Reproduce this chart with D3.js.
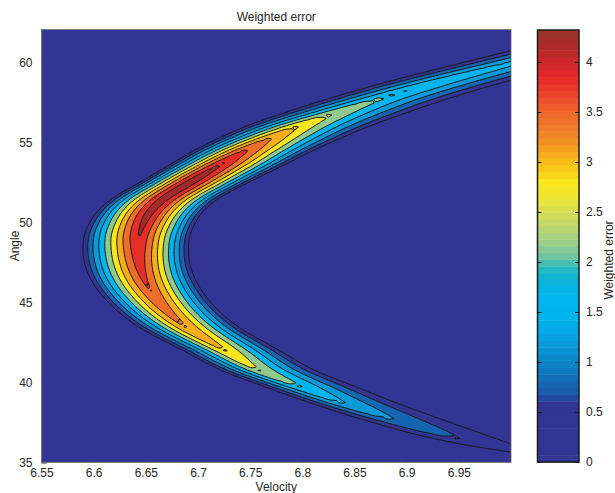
<!DOCTYPE html>
<html><head><meta charset="utf-8">
<script src="https://cdn.jsdelivr.net/npm/d3@7"></script>
<style>
body{margin:0;background:#fff}
svg{display:block}
text{font-family:"Liberation Sans",Arial,Helvetica,sans-serif;fill:#262626}
</style>
</head><body>
<svg id="chart" width="615" height="493"></svg>
<script>
// ---------- data ----------
// ridge of the error surface, listed by angle: ridge velocity, peak error, and half widths
// (in velocity) on the outer (convex) and inner (concave) side of the ridge
const ridgeAngle      = [34.0, 35.7, 36.53, 37.66, 38.66, 39.67, 40.8, 42.0, 43.5, 45.8, 48.3, 49.5, 51.4, 52.6, 53.6, 54.6, 55.4, 56.1, 56.9, 57.7, 58.5, 59.9, 61.4, 62.8];
const ridgeVelocity   = [7.11, 7.0, 6.946, 6.887, 6.841, 6.80, 6.757, 6.726, 6.688, 6.654, 6.643, 6.645, 6.665, 6.694, 6.72, 6.747, 6.772, 6.797, 6.832, 6.870, 6.912, 6.995, 7.09, 7.19];
const ridgePeak       = [0.2, 0.45, 0.84, 1.24, 1.64, 2.04, 2.47, 2.87, 3.27, 3.65, 3.95, 4.1, 4.28, 4.32, 4.12, 3.68, 3.22, 2.83, 2.4, 2.12, 2.0, 1.78, 1.58, 1.38];
const ridgeWidthOuter = [0.038, 0.038, 0.038, 0.038, 0.038, 0.039, 0.041, 0.045, 0.05, 0.055, 0.058, 0.057, 0.054, 0.052, 0.052, 0.053, 0.054, 0.055, 0.056, 0.057, 0.058, 0.06, 0.062, 0.064];
const ridgeWidthInner = [0.066, 0.066, 0.066, 0.066, 0.065, 0.064, 0.062, 0.059, 0.056, 0.054, 0.052, 0.053, 0.056, 0.061, 0.067, 0.072, 0.076, 0.078, 0.079, 0.078, 0.077, 0.076, 0.078, 0.08];
// shape of the error across the ridge (fraction of peak at 0, 0.1, ... 1 of the half width)
const crossProfile = [1, 0.93, 0.85, 0.76, 0.66, 0.56, 0.46, 0.36, 0.25, 0.125, 0];

const contourLevels = [0.4, 0.8, 1.2, 1.6, 2.0, 2.4, 2.8, 3.2, 3.6, 4.0];
const bandColors = ["#333594", "#333594", "#1565b1", "#0a9ad8", "#00b5ed", "#8fca8c", "#f6e51f", "#f6ad1c", "#ef6d2b", "#e52e28", "#a32a2a"];

const xTicks = [6.55, 6.6, 6.65, 6.7, 6.75, 6.8, 6.85, 6.9, 6.95];
const yTicks = [35, 40, 45, 50, 55, 60];
const cbTicks = [0, 0.5, 1, 1.5, 2, 2.5, 3, 3.5, 4];
const cmapStops  = [0, 0.58, 0.64, 0.72, 0.85, 1.0, 1.15, 1.3, 1.45, 1.7, 1.85, 1.95, 2.05, 2.2, 2.35, 2.5, 2.65, 2.8, 2.95, 3.1, 3.3, 3.5, 3.7, 3.85, 4.0, 4.15, 4.32];
const cmapColors = ["#333594", "#333594", "#24489f", "#1860ac", "#1070b8", "#0c85c6", "#0a98d8", "#04a8e4", "#00b3ec", "#00b4ec", "#10b5d2", "#2abbbb", "#6ec4a4", "#9ccf88", "#bcd670", "#d6de54", "#f0e534", "#fbe61e", "#f8c618", "#f5a71e", "#f1802a", "#ee672c", "#ea402b", "#e5272a", "#cd282a", "#b02a2a", "#98342a"];

const xDomain = [6.55, 7.0], yDomain = [35, 62.1], cbDomain = [0, 4.32];

// ---------- layout ----------
const svg = d3.select("#chart");
const plot = {left: 41.5, right: 511, top: 29.5, bottom: 462.5};
const cb = {left: 537.5, right: 579, top: 30, bottom: 462};

const x = d3.scaleLinear().domain(xDomain).range([plot.left, plot.right]);
const y = d3.scaleLinear().domain(yDomain).range([plot.bottom, plot.top]);

// ---------- smooth curves through the ridge description ----------
function smoothCurve(xs, ys) {
  const n = xs.length, m = new Array(n);
  for (let i = 0; i < n; i++) {
    if (i === 0) m[i] = (ys[1] - ys[0]) / (xs[1] - xs[0]);
    else if (i === n - 1) m[i] = (ys[n - 1] - ys[n - 2]) / (xs[n - 1] - xs[n - 2]);
    else {
      const h0 = xs[i] - xs[i - 1], h1 = xs[i + 1] - xs[i];
      const s0 = (ys[i] - ys[i - 1]) / h0, s1 = (ys[i + 1] - ys[i]) / h1;
      m[i] = (s0 * h1 + s1 * h0) / (h0 + h1);
    }
  }
  return function(v) {
    let i = d3.bisectRight(xs, v) - 1;
    i = Math.max(0, Math.min(n - 2, i));
    const h = xs[i + 1] - xs[i], t = (v - xs[i]) / h, t2 = t * t, t3 = t2 * t;
    return (2 * t3 - 3 * t2 + 1) * ys[i] + (t3 - 2 * t2 + t) * h * m[i] + (-2 * t3 + 3 * t2) * ys[i + 1] + (t3 - t2) * h * m[i + 1];
  };
}
const centerAt = smoothCurve(ridgeAngle, ridgeVelocity);
const peakAt = smoothCurve(ridgeAngle, ridgePeak);
const wOutAt = smoothCurve(ridgeAngle, ridgeWidthOuter);
const wInAt = smoothCurve(ridgeAngle, ridgeWidthInner);
const profile = d3.scaleLinear().domain(d3.range(crossProfile.length).map(i => i / (crossProfile.length - 1))).range(crossProfile).clamp(true);

function surface(v, a) {
  const c = centerAt(a);
  const w = v < c ? wOutAt(a) : wInAt(a);
  return Math.max(0, peakAt(a)) * profile(Math.abs(v - c) / w);
}

// sampling grid of the surface (fine in velocity, coarse in angle)
const v0 = 6.54, dv = 0.0025, nx = 189;
const a0 = 34.75, da = 0.25, ny = 112;
const values = new Array(nx * ny);
for (let j = 0; j < ny; j++) for (let i = 0; i < nx; i++) {
  values[j * nx + i] = surface(v0 + i * dv, a0 + j * da);
}

const gx = d3.scaleLinear().domain([0.5, nx - 0.5]).range([x(v0), x(v0 + (nx - 1) * dv)]);
const gy = d3.scaleLinear().domain([0.5, ny - 0.5]).range([y(a0), y(a0 + (ny - 1) * da)]);
const gridPath = d3.geoPath(d3.geoTransform({point(px, py) { this.stream.point(gx(px), gy(py)); }}));

// ---------- axes (under the filled contours, like MATLAB's bottom layer) ----------
const fmt = d3.format("~g");
const xAxis = svg.append("g").attr("transform", `translate(0,${plot.bottom})`)
  .call(d3.axisBottom(x).tickValues(xTicks).tickFormat(fmt).tickSizeInner(-5).tickSizeOuter(0).tickPadding(13));
const yAxis = svg.append("g").attr("transform", `translate(${plot.left},0)`)
  .call(d3.axisLeft(y).tickValues(yTicks).tickFormat(fmt).tickSizeInner(-5).tickSizeOuter(0).tickPadding(9));
[xAxis, yAxis].forEach(g => {
  g.select(".domain").remove();
  g.selectAll("line").attr("stroke", "#262626");
  g.selectAll("text").attr("font-size", 12).attr("fill", "#262626").style("font-family", '"Liberation Sans",Arial,sans-serif');
});
xAxis.selectAll("text").attr("dy", 0).attr("y", 14);

// ---------- filled contours ----------
svg.append("clipPath").attr("id", "plotclip").append("rect")
  .attr("x", plot.left).attr("y", plot.top).attr("width", plot.right - plot.left).attr("height", plot.bottom - plot.top);
const layer = svg.append("g").attr("clip-path", "url(#plotclip)");
layer.append("rect").attr("x", plot.left).attr("y", plot.top)
  .attr("width", plot.right - plot.left).attr("height", plot.bottom - plot.top).attr("fill", bandColors[0]);
const contours = d3.contours().size([nx, ny]).thresholds(contourLevels)(values);
layer.selectAll("path.band").data(contours).join("path")
  .attr("class", "band")
  .attr("d", gridPath)
  .attr("fill", (d, i) => bandColors[i + 1])
  .attr("fill-rule", "evenodd")
  .attr("stroke", "#1a1a1a")
  .attr("stroke-width", 1)
  .attr("stroke-linejoin", "round");

// box
svg.append("rect").attr("x", plot.left).attr("y", plot.top)
  .attr("width", plot.right - plot.left).attr("height", plot.bottom - plot.top)
  .attr("fill", "none").attr("stroke", "#6a6a6a").attr("stroke-width", 0.8);

// ---------- titles ----------
svg.append("text").attr("x", (plot.left + plot.right) / 2).attr("y", 20.5).attr("text-anchor", "middle")
  .attr("font-size", 12).text("Weighted error");
svg.append("text").attr("x", (plot.left + plot.right) / 2).attr("y", 490.5).attr("text-anchor", "middle")
  .attr("font-size", 12).text("Velocity");
svg.append("text").attr("transform", "translate(19,246) rotate(-90)").attr("text-anchor", "middle")
  .attr("font-size", 12).text("Angle");

// ---------- colorbar ----------
const cmap = d3.scaleLinear().domain(cmapStops).range(cmapColors).interpolate(d3.interpolateRgb);
const cy = d3.scaleLinear().domain(cbDomain).range([cb.bottom, cb.top]);
const nSteps = 64;
const steps = d3.range(nSteps).map(i => [cbDomain[0] + (cbDomain[1] - cbDomain[0]) * i / nSteps, cbDomain[0] + (cbDomain[1] - cbDomain[0]) * (i + 1) / nSteps]);
svg.append("g").selectAll("rect").data(steps).join("rect")
  .attr("x", cb.left).attr("width", cb.right - cb.left)
  .attr("y", d => cy(d[1])).attr("height", d => cy(d[0]) - cy(d[1]) + 0.5)
  .attr("fill", d => cmap((d[0] + d[1]) / 2));
const cbAxisR = svg.append("g").attr("transform", `translate(${cb.right},0)`)
  .call(d3.axisRight(cy).tickValues(cbTicks).tickFormat(fmt).tickSizeInner(-4).tickSizeOuter(0).tickPadding(7));
const cbAxisL = svg.append("g").attr("transform", `translate(${cb.left},0)`)
  .call(d3.axisLeft(cy).tickValues(cbTicks).tickFormat("").tickSizeInner(-4).tickSizeOuter(0));
[cbAxisR, cbAxisL].forEach(g => {
  g.select(".domain").remove();
  g.selectAll("line").attr("stroke", "#1a1a1a").attr("stroke-width", 1);
  g.selectAll("text").attr("font-size", 12).attr("fill", "#262626").style("font-family", '"Liberation Sans",Arial,sans-serif');
});
svg.append("rect").attr("x", cb.left).attr("y", cb.top).attr("width", cb.right - cb.left).attr("height", cb.bottom - cb.top)
  .attr("fill", "none").attr("stroke", "#1a1a1a").attr("stroke-width", 1.5);
svg.append("text").attr("transform", `translate(613,${(cb.top + cb.bottom) / 2 + 14}) rotate(-90)`).attr("text-anchor", "middle")
  .attr("font-size", 12).text("Weighted error");
</script>
</body></html>
